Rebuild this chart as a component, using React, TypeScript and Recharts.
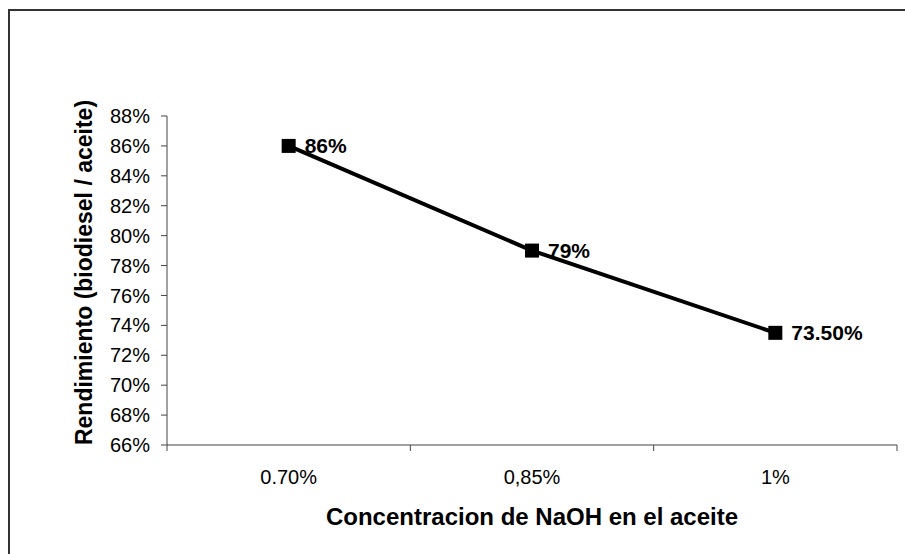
import { Label, LabelList, Line, LineChart, XAxis, YAxis } from "recharts";

// NaOH concentration vs. biodiesel yield
const categories = ["0.70%", "0,85%", "1%"];
const yieldPct = [86, 79, 73.5];
const yieldLabels = ["86%", "79%", "73.50%"];
const yTicks = [66, 68, 70, 72, 74, 76, 78, 80, 82, 84, 86, 88];
// boundaries between categories carry the tick marks, centres carry the names
const xTicks = [-0.5, 0, 0.5, 1, 1.5, 2, 2.5];

const data = categories.map((c, i) => ({ idx: i, cat: c, v: yieldPct[i], lbl: yieldLabels[i] }));

const AXIS = "#444";
const FONT = "'Liberation Sans', Arial, sans-serif";

function XTick(props: any) {
  const { x, y, payload } = props;
  const v = payload.value as number;
  if (!Number.isInteger(v)) {
    return <line x1={x} x2={x} y1={y} y2={y + 6} stroke={AXIS} strokeWidth={1} />;
  }
  return (
    <text x={x} y={y + 25} dy="0.71em" textAnchor="middle" fontSize={20} fontFamily={FONT} fill="#000">
      {categories[v]}
    </text>
  );
}

function Square(props: any) {
  const { cx, cy } = props;
  if (cx == null || cy == null) return null;
  return <rect x={cx - 7} y={cy - 7} width={14} height={14} fill="#000" />;
}

function ValueLabel(props: any) {
  const { x, y, index } = props;
  return (
    <text x={x + 16} y={y} dy="0.36em" fontSize={21} fontWeight="bold" fontFamily={FONT} fill="#000">
      {yieldLabels[index]}
    </text>
  );
}

export default function App() {
  return (
    <div
      style={{
        position: "absolute",
        left: 8,
        top: 9,
        width: 897,
        height: 545,
        boxSizing: "border-box",
        borderTop: "2px solid #333",
        borderLeft: "2px solid #333",
        background: "#fff",
      }}
    >
      <LineChart width={895} height={543} data={data} margin={{ top: 105, right: 8, bottom: 0, left: 0 }}>
        <XAxis
          dataKey="idx"
          type="number"
          domain={[-0.5, 2.5]}
          ticks={xTicks}
          interval={0}
          tickLine={false}
          tickSize={0}
          tickMargin={0}
          tick={<XTick />}
          height={109}
          stroke={AXIS}
        >
          <Label
            content={({ viewBox }: any) => (
              <text
                x={viewBox.x + viewBox.width / 2}
                y={514}
                textAnchor="middle"
                fontSize={24}
                fontWeight="bold"
                fontFamily={FONT}
                fill="#000"
              >
                Concentracion de NaOH en el aceite
              </text>
            )}
          />
        </XAxis>
        <YAxis
          type="number"
          domain={[66, 88]}
          ticks={yTicks}
          interval={0}
          width={157}
          tickSize={6}
          tickMargin={11}
          tickFormatter={(v: number) => `${v}%`}
          tick={{ fontSize: 20, fontFamily: FONT, fill: "#000" }}
          stroke={AXIS}
        >
          <Label
            content={({ viewBox }: any) => {
              const cx = 74;
              const cy = viewBox.y + viewBox.height / 2 - 8;
              return (
                <text
                  x={cx}
                  y={cy}
                  transform={`rotate(-90 ${cx} ${cy})`}
                  textAnchor="middle"
                  dominantBaseline="central"
                  fontSize={23}
                  fontWeight="bold"
                  fontFamily={FONT}
                  fill="#000"
                >
                  Rendimiento (biodiesel / aceite)
                </text>
              );
            }}
          />
        </YAxis>
        <Line
          dataKey="v"
          type="linear"
          stroke="#000"
          strokeWidth={4}
          dot={<Square />}
          activeDot={false}
          isAnimationActive={false}
        >
          <LabelList dataKey="v" content={<ValueLabel />} />
        </Line>
      </LineChart>
    </div>
  );
}
